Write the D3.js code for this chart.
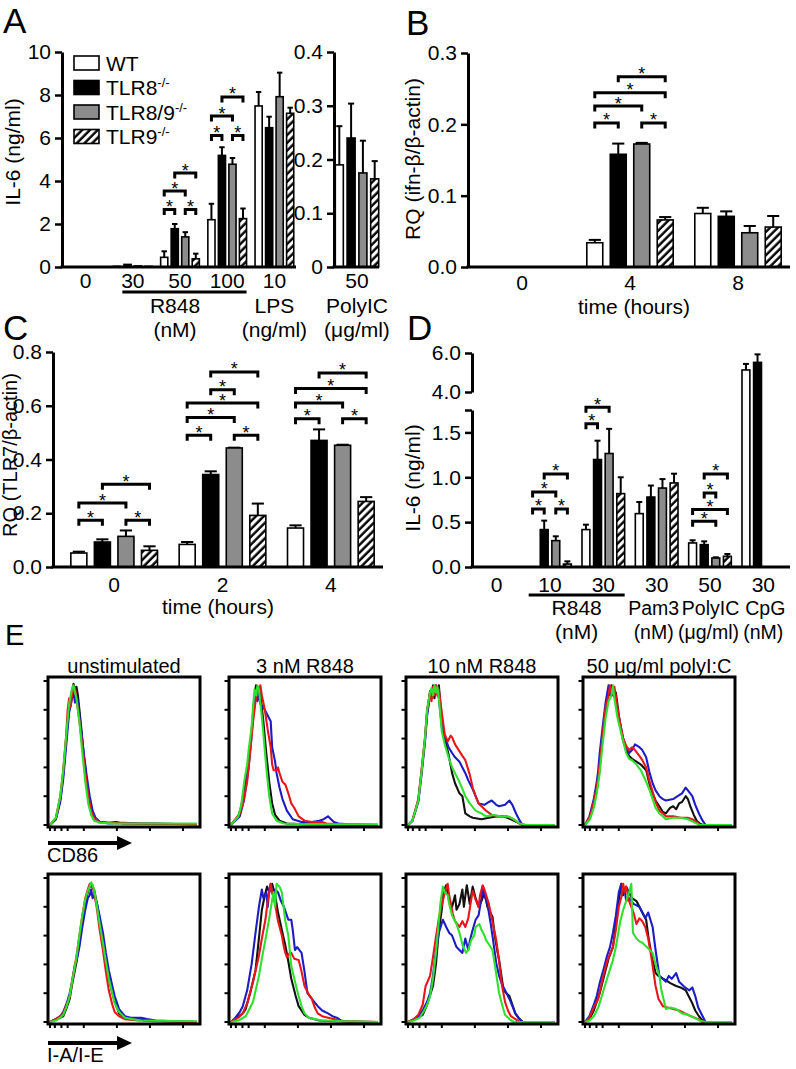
<!DOCTYPE html>
<html><head><meta charset="utf-8">
<script src="https://cdn.jsdelivr.net/npm/d3@7"></script>
<style>body{margin:0;background:#fff} svg{display:block}</style>
</head><body>
<svg id="fig" width="796" height="1069"></svg>
<script>
// ---------------- DATA ----------------
const seriesNames = ["WT", "TLR8", "TLR8/9", "TLR9"];
const seriesSup = ["", "-/-", "-/-", "-/-"];

// Panel A (IL-6 ng/ml)
const aGroups = ["0", "30", "50", "100", "LPS10"];
const aTickLabels = ["0", "30", "50", "100", "10"];
const aWT = [0, 0.03, 0.45, 2.2, 7.49];
const aKO8 = [0, 0.12, 1.78, 5.19, 6.48];
const aKO89 = [0, 0.05, 1.4, 4.78, 7.92];
const aKO9 = [0, 0.03, 0.38, 2.25, 7.15];
const aWTsem = [0, 0, 0.28, 0.74, 0.65];
const aKO8sem = [0, 0, 0.22, 0.38, 0.51];
const aKO89sem = [0, 0, 0.22, 0.29, 1.12];
const aKO9sem = [0, 0, 0.24, 0.47, 0.26];
const aBrackets = [["50",0,1,2.67],["50",2,3,2.67],["50",0,2,3.53],["50",1,3,4.37],
                   ["100",0,1,6.12],["100",2,3,6.12],["100",0,2,7.02],["100",1,3,7.91]];
const aTicks = [0, 2, 4, 6, 8, 10];
// Panel A, PolyIC sub-axis
const a2Groups = ["50"];
const a2WT = [0.19], a2KO8 = [0.24], a2KO89 = [0.175], a2KO9 = [0.164];
const a2WTsem = [0.072], a2KO8sem = [0.064], a2KO89sem = [0.06], a2KO9sem = [0.033];
const a2Ticks = [0, 0.1, 0.2, 0.3, 0.4];

// Panel B (RQ ifn-b)
const bGroups = ["0", "4", "8"];
const bWT = [0, 0.034, 0.075], bKO8 = [0, 0.158, 0.071], bKO89 = [0, 0.1724, 0.048], bKO9 = [0, 0.066, 0.056];
const bWTsem = [0, 0.004, 0.008], bKO8sem = [0, 0.015, 0.007], bKO89sem = [0, 0.0016, 0.0095], bKO9sem = [0, 0.004, 0.0155];
const bBrackets = [["4",0,1,0.202],["4",2,3,0.202],["4",0,2,0.2257],["4",0,3,0.2444],["4",1,3,0.2668]];
const bTicks = [0, 0.1, 0.2, 0.3];

// Panel C (RQ TLR7)
const cGroups = ["0", "2", "4"];
const cWT = [0.052, 0.084, 0.145], cKO8 = [0.093, 0.344, 0.471], cKO89 = [0.114, 0.443, 0.453], cKO9 = [0.062, 0.192, 0.244];
const cWTsem = [0.005, 0.009, 0.01], cKO8sem = [0.01, 0.012, 0.041], cKO89sem = [0.022, 0.001, 0.002], cKO9sem = [0.015, 0.044, 0.016];
const cBrackets = [["0",0,1,0.174],["0",2,3,0.174],["0",0,2,0.238],["0",1,3,0.308],
                   ["2",0,1,0.49],["2",2,3,0.49],["2",0,2,0.556],["2",0,3,0.61],["2",1,2,0.66],["2",1,3,0.726],
                   ["4",0,1,0.552],["4",2,3,0.552],["4",0,2,0.61],["4",0,3,0.664],["4",1,3,0.722]];
const cTicks = [0, 0.2, 0.4, 0.6, 0.8];

// Panel D (IL-6 ng/ml, broken axis)
const dGroups = ["0", "R10", "R30", "P30", "I50", "C30"];
const dTickLabels = ["0", "10", "30", "30", "50", "30"];
const dStimLabels = ["Pam3", "PolyIC", "CpG"];
const dUnitLabels = ["(nM)", "(\u03bcg/ml)", "(nM)"];
const dWT = [0, 0, 0.417, 0.595, 0.268, 5.13];
const dKO8 = [0, 0.417, 1.198, 0.78, 0.249, 5.52];
const dKO89 = [0, 0.294, 1.265, 0.88, 0.10, 0];
const dKO9 = [0, 0.033, 0.818, 0.937, 0.119, 0];
const dWTsem = [0, 0, 0.055, 0.13, 0.03, 0.31];
const dKO8sem = [0, 0.1, 0.21, 0.128, 0.037, 0.41];
const dKO89sem = [0, 0.048, 0.275, 0.1, 0.008, 0];
const dKO9sem = [0, 0.03, 0.182, 0.103, 0.026, 0];
const dBrackets = [["R10",0,1,0.647],["R10",2,3,0.647],["R10",0,2,0.837],["R10",1,3,1.038],
                   ["R30",0,1,1.596],["R30",0,2,1.782],
                   ["I50",0,2,0.51],["I50",0,3,0.64],["I50",1,2,0.826],["I50",1,3,1.038]];
const dTicksLow = [0, 0.5, 1.0, 1.5];
const dTicksHigh = [4.0, 6.0];

// Panel E histograms (x: % of channel range, y: % of max)
const eTitles = ["unstimulated", "3 nM R848", "10 nM R848", "50 \u03bcg/ml polyI:C"];
const eMarkers = ["CD86", "I-A/I-E"];
const eBottomTicks = [0, 3.3, 7.8, 12, 23, 45.5, 68, 90.5];
const eLeftTicks = [0, 20, 40, 60, 80, 100];

const cd86Unstim_black = [[0,0],[4,4],[7,18],[9,35],[11,60],[13,82],[15,93],[16,98],[17,94],[18,96],[19,90],[21,70],[23,48],[25,30],[27,16],[29,8],[31,4],[34,2],[40,1.5],[45,2],[50,1],[60,1],[100,0.5]];
const cd86Unstim_blue = [[0,0],[4,4],[7,16],[9,32],[11,55],[13,78],[15,88],[16,92],[17,85],[18,90],[19,85],[21,68],[23,50],[25,34],[27,20],[29,10],[31,5],[34,2],[40,1],[50,1.5],[60,1],[100,0.5]];
const cd86Unstim_red = [[0,0],[4,5],[7,20],[9,38],[11,62],[12,80],[13,88],[14,82],[15,90],[16,96],[17,95],[18,88],[19,80],[20,72],[22,55],[24,36],[26,20],[28,10],[30,5],[33,2],[40,1.5],[55,1],[100,0.5]];
const cd86Unstim_green = [[0,0],[4,5],[7,20],[9,38],[11,62],[13,84],[15,95],[16,97],[17,92],[18,88],[20,72],[22,50],[24,30],[26,15],[28,7],[30,3],[34,1.5],[45,1],[100,1]];

const cd86R3_black = [[0,0],[5,6],[7,13],[11,38],[14,65],[16,90],[17,97],[18,92],[19,96],[20,90],[22,72],[24,50],[26,30],[28,15],[30,7],[33,3],[38,1],[50,0.5],[100,0]];
const cd86R3_blue = [[0,0],[6,6],[9,18],[12,40],[14,62],[16,85],[17,90],[18,86],[19,92],[20,84],[22,82],[24,78],[26,74],[27,72],[28,54],[30,44],[31,36],[33,26],[35,18],[38,10],[42,4],[48,2],[55,2],[60,3],[63,4],[66,6],[68,4],[70,2],[73,1],[80,0.5],[100,0]];
const cd86R3_red = [[0,0],[6,8],[8,14],[11,30],[13,50],[15,72],[17,88],[18,95],[19,92],[20,97],[21,90],[23,80],[25,66],[27,54],[28,42],[29,38],[31,38],[32,40],[33,36],[35,30],[37,28],[39,22],[41,15],[43,12],[46,6],[50,3],[55,2],[62,2],[65,1],[73,0.5],[100,0]];
const cd86R3_green = [[0,0],[5,6],[7,14],[9,30],[11,42],[12,52],[14,68],[15,82],[16,94],[17,90],[18,97],[19,94],[20,85],[22,64],[24,40],[26,20],[28,8],[31,3],[36,1],[50,0.5],[100,0.5]];

const cd86R10_black = [[0,0],[3,3],[7,17],[9,35],[11.5,59],[13,78],[15,93],[16,90],[17,97],[18,88],[19,95],[20,92],[21,97],[23,72],[25,60],[27.6,49],[30,36],[32,29],[35,22],[37,20],[39,8],[42,6],[44,5],[50,4],[55,5],[60,6],[65,6],[70,4],[74,2],[78,0],[100,0]];
const cd86R10_blue = [[0,0],[3,3],[7,16],[9,33],[11.5,57],[13,76],[15,90],[16,88],[17,95],[18,90],[19,97],[20,93],[21,88],[23,68],[25,62],[27.6,54],[30,50],[32,47],[35,44],[37,40],[39,36],[41,31],[44,25],[48,15],[52,14],[55,16],[57,17],[60,14],[62,13],[66,14],[69,17],[71,14],[73.5,8],[76,3],[78,0],[100,0]];
const cd86R10_red = [[0,0],[3,3],[7,18],[9,36],[11.5,60],[13,80],[15,92],[16,86],[17,96],[18,90],[19,97],[20,90],[21,94],[23,78],[25,63],[27,58],[29,62],[30,61],[32,56],[34.5,52],[37,48],[39,45],[42,35],[44,26],[46,20],[48,15],[53,10],[57,7],[62,6],[67,6],[70,5],[73,3],[76,1],[80,0],[100,0]];
const cd86R10_green = [[0,0],[3,3],[7,17],[9,35],[11.5,60],[13,80],[15,92],[16,95],[17,90],[18,97],[19,92],[20,96],[21,88],[23,65],[25,56],[27.6,47],[30,40],[34.5,31],[37,25],[39,20],[42,15],[46,10],[50,8],[53,6],[58,7],[63,6],[68,6],[72,4],[76,1],[80,0],[100,0]];

const cd86Poly_black = [[0,0],[3.4,5],[6,14],[8,24],[10,40],[12,61],[14,80],[16,92],[18,97],[19,90],[21,92],[23.6,72],[26,58],[28,52],[30,48],[32,46],[35,44],[38,42],[41.6,38],[44,28],[46,22],[48,17],[50.6,13],[53,9],[55,8],[58,12],[60,13],[62,11],[64,15],[66,16],[68.5,20],[70,18],[72,12],[74,7],[76,3],[78,1],[80,0],[100,0]];
const cd86Poly_blue = [[0,0],[3,6],[6,18],[8,30],[9,38],[10,50],[12,68],[14,85],[16,97],[17,90],[19,95],[21,85],[23.6,72],[26,60],[28,54],[30,50],[32,52],[34,56],[37,54],[39,52],[41.6,47],[44,36],[46,29],[48,24],[50.6,20],[53,18],[55,17],[60,18],[63,20],[66,22],[68.5,26],[70,24],[73,20],[75,14],[77.5,8],[80,3],[82,0],[100,0]];
const cd86Poly_red = [[0,0],[3.4,6],[6,16],[8,26],[10,42],[12,62],[14,82],[16,90],[17,97],[18,92],[20,96],[22,82],[23.6,72],[26,60],[28,55],[30,52],[32,54],[34,52],[37,48],[39,45],[41.6,40],[44,30],[46,23],[48,16],[50.6,10],[53,8],[55,6],[60,6],[65,5],[70,5],[73,4],[76,2],[78,0],[100,0]];
const cd86Poly_green = [[0,0],[3.4,4],[6,12],[8,22],[10,36],[12,56],[14,74],[16,86],[18,90],[19,97],[20,88],[22,75],[23.6,68],[26,58],[28,50],[30,46],[32,45],[35,42],[38,38],[41.6,30],[44,24],[46,18],[48,12],[50.6,8],[53,6],[55,4],[60,5],[65,5],[70,4],[74,2],[78,0],[100,0]];

const iaUnstim_black = [[0,0],[2,1],[4,2],[7,3],[9,4],[11,9],[13.4,16],[15,26],[17.9,41],[20,56],[22,71],[24,82],[25.7,90],[27,94],[28,96],[29,93],[30,92],[32,82],[33.5,73],[36,58],[38,43],[40,30],[42.4,20],[44,14],[47,6],[51,3],[55,2],[60,2],[65,1],[70,0.5],[100,0]];
const iaUnstim_blue = [[0,0],[4,2],[7,4],[9,7],[11,12],[13.4,20],[15,28],[17,40],[18,42],[20,52],[22,66],[24,78],[25.7,86],[27,88],[28,92],[29,86],[30,88],[32,82],[33.5,75],[36,62],[38,48],[40,36],[42.4,25],[44,18],[47,9],[51,4],[55,3],[62,3],[66,2],[72,1],[100,0]];
const iaUnstim_red = [[0,0],[4,2],[7,4],[9,6],[11,11],[13.4,18],[15,28],[17.9,45],[20,60],[22,74],[24,86],[25.7,92],[27,96],[28,94],[29,95],[30,90],[32,78],[33.5,66],[36,50],[38,35],[40,22],[42.4,12],[44,7],[47,4],[51,2],[60,1],[100,0]];
const iaUnstim_green = [[0,0],[4,1],[7,3],[9,5],[11,10],[13.4,18],[15,28],[17.9,44],[20,60],[22,74],[24,85],[25.7,91],[27,94],[28,97],[29,95],[30,92],[32,80],[33.5,70],[36,55],[38,42],[40,30],[42.4,20],[44,13],[47,7],[51,3],[56,2],[62,1],[100,0.5]];

const iaR3_black = [[0,0],[4,3],[8,6],[10,9],[13,20],[16.7,36],[19,58],[21,78],[23,88],[24.5,94],[26,90],[28,96],[30,88],[32,76],[35,62],[37,53],[39,42],[41,30],[44,18],[46,11],[50,5],[53,3],[60,1],[70,0.5],[100,0]];
const iaR3_blue = [[0,0],[3,3],[6,7],[8,11],[11,22],[14,40],[16.7,62],[19,80],[21,92],[22,86],[24,90],[25,80],[26,92],[27,96],[29,86],[30,92],[32,90],[34,84],[36,80],[39,71],[41,71],[42,64],[43.5,50],[45,52],[48,48],[50,35],[52,20],[55,16],[59,11],[62,8],[66,6],[69,4],[72,3],[75,1],[80,0],[100,0]];
const iaR3_red = [[0,0],[5,3],[8,6],[11,13],[15,28],[19,46],[21,58],[23.4,71],[25,84],[27,96],[28,90],[30,82],[32,70],[34.6,60],[36,52],[37,48],[38,45],[40,48],[41,48],[43,44],[46,43],[48,35],[50,25],[53,19],[55,16],[57,10],[59,6],[62,4],[66,3],[70,2],[75,0.5],[100,0]];
const iaR3_green = [[0,0],[5,1],[10,4],[15,14],[19,32],[21,44],[23.4,57],[26,72],[28,85],[29,90],[30,80],[31,96],[33,94],[34.6,90],[36,78],[37,70],[39,60],[41,39],[44,26],[46,18],[48,11],[50,6],[53,3],[57,2],[62,1],[77,0.5],[100,0]];

const iaR10_black = [[0,0],[3,1],[7,3],[10,5],[13,12],[17,25],[19,40],[21,64],[23,78],[24,90],[26,95],[28,84],[30,80],[32,88],[33,78],[35,82],[37,92],[38,80],[40,95],[42,82],[44,94],[46,86],[48,80],[50,84],[52,90],[54,80],[56,76],[57.5,73],[59,60],[61,48],[62,43],[63,36],[65,22],[67,20],[69,18],[71,12],[73,6],[75,3],[78,0],[100,0]];
const iaR10_blue = [[0,0],[4,2],[7,4],[10,8],[13,14],[15,20],[17,32],[19,50],[21,62],[23.7,71],[26,66],[28,62],[30,60],[33,52],[35,50],[37,48],[39,58],[41,50],[42,56],[44,64],[46,71],[48,74],[50,86],[50.8,94],[52,88],[54,82],[56,70],[58,56],[60,41],[62,32],[64,26],[67,20],[69,16],[71,11],[73,6],[76,2],[78,0],[100,0]];
const iaR10_red = [[0,0],[4,2],[7,5],[10,12],[12,25],[15,32],[17,45],[19,59],[21,72],[23.7,84],[25,90],[27,96],[28,88],[30.5,75],[32,70],[35,66],[37,70],[39,66],[41,72],[43,85],[44,91],[46,85],[48,80],[49,88],[50.8,95],[52,92],[55,82],[57,72],[60,57],[62,42],[64,25],[66,14],[68,8],[70,4],[73,2],[76,0],[100,0]];
const iaR10_green = [[0,0],[4,1],[8,3],[11,8],[13,12],[15,18],[17,30],[19,48],[21,70],[22,82],[23.7,94],[25,90],[27,88],[28,82],[30,74],[33,68],[35,62],[37,54],[39.5,48],[41,50],[43,57],[45,60],[46,66],[48.5,68],[50,64],[52,60],[53,57],[55,54],[57.5,50],[59,40],[62,20],[64,12],[66,5],[69,2],[72,0],[100,0]];

const iaPoly_black = [[0,0],[3,2],[6,8],[10,20],[13,32],[16,44],[19,52],[21,68],[23,85],[24.7,96],[26,88],[28,94],[30,90],[32,86],[35,84],[37,80],[39,76],[41.6,71],[43,60],[45,48],[48,34],[50,32],[53,30],[55,29],[58,27],[62,25],[65,24],[68.5,22],[71,17],[73,13],[75,8],[77.5,4],[80,1],[82,0],[100,0]];
const iaPoly_blue = [[0,0],[3,4],[6,12],[8,18],[10,27],[13,38],[15,46],[17,52],[19,62],[21,74],[23,90],[24.7,96],[25,88],[27,92],[28,84],[30,86],[33,82],[37,80],[39,76],[41,72],[43,76],[46,66],[48,50],[50.6,32],[53,30],[55,28],[57,32],[59,30],[62,34],[64,28],[66,26],[68,24],[71,22],[73,24],[75,18],[77,10],[80,4],[82,0],[100,0]];
const iaPoly_red = [[0,0],[3,3],[6,10],[9,16],[12,30],[15,42],[19,52],[21,64],[23,80],[25,88],[26,96],[27,90],[28,94],[30,84],[33,76],[35,68],[37,72],[39,70],[41,66],[43,58],[45,46],[48,25],[50,16],[53,11],[56,10],[60,9],[64,8],[68,6],[72,4],[77,2],[80,0],[100,0]];
const iaPoly_green = [[0,0],[3,1],[6,4],[9,10],[12,20],[15,30],[19,43],[21,52],[24,70],[26,78],[28,84],[30,90],[31.5,96],[32.6,62],[35,58],[37,56],[39,55],[42,52],[44,50],[46,48],[48,40],[50.6,32],[52,22],[55,9],[58,10],[62,9],[66,6],[70,5],[74,3],[78,1],[82,0],[100,0]];

// ---------------- DRAWING ----------------
const FONT = "'Liberation Sans', Arial, Helvetica, sans-serif";
const TICKFS = 21;
const svg = d3.select("#fig").attr("font-family", FONT);
svg.append("rect").attr("width", 796).attr("height", 1069).attr("fill", "#fff");
const defs = svg.append("defs");
const pat = defs.append("pattern").attr("id", "hatch").attr("patternUnits", "userSpaceOnUse")
  .attr("width", 5.5).attr("height", 5.5).attr("patternTransform", "rotate(45)");
pat.append("rect").attr("width", 5.5).attr("height", 5.5).attr("fill", "#fff");
pat.append("line").attr("x1", 1.5).attr("y1", -1).attr("x2", 1.5).attr("y2", 6.5).attr("stroke", "#000").attr("stroke-width", 2.4);

const seriesFill = ["#ffffff", "#000000", "#8c8c8c", "url(#hatch)"];

function txt(g, x, y, s, fs, anchor, extra) {
  const t = g.append("text").attr("x", x).attr("y", y).attr("font-size", fs)
    .attr("text-anchor", anchor || "middle").attr("fill", "#000").text(s);
  if (extra) extra(t);
  return t;
}

function styleAxis(ax) {
  ax.select(".domain").attr("stroke-width", 3).attr("stroke", "#000");
  ax.selectAll(".tick line").attr("stroke-width", 2.5).attr("stroke", "#000");
  ax.selectAll(".tick text").attr("font-size", TICKFS).attr("font-family", FONT).attr("fill", "#000");
}

function yAxis(x, scale, ticks, fmt) {
  const ax = svg.append("g").attr("transform", `translate(${x},0)`)
    .call(d3.axisLeft(scale).tickValues(ticks).tickFormat(fmt).tickSize(7).tickSizeOuter(0).tickPadding(4));
  styleAxis(ax);
  return ax;
}

function xAxisLine(x1, x2, y) {
  svg.append("line").attr("x1", x1 - 1.5).attr("x2", x2).attr("y1", y).attr("y2", y)
    .attr("stroke", "#000").attr("stroke-width", 3);
}

function xLabels(x0, y, pad, fmt) {
  const ax = svg.append("g").attr("transform", `translate(0,${y})`)
    .call(d3.axisBottom(x0).tickSize(0).tickPadding(pad).tickFormat(fmt));
  ax.select(".domain").remove();
  ax.selectAll(".tick text").attr("font-size", TICKFS).attr("font-family", FONT).attr("fill", "#000");
}

function barPanel(x0, yPix, groups, vals, sems, brackets) {
  const g = svg.append("g");
  const x1 = d3.scaleBand().domain([0, 1, 2, 3]).range([0, x0.bandwidth()]).paddingInner(0.32);
  const bw = x1.bandwidth();
  const base = yPix(0);
  groups.forEach((grp, gi) => {
    for (let s = 0; s < 4; s++) {
      const v = vals[s][gi];
      if (!(v > 0)) continue;
      const x = x0(grp) + x1(s);
      const top = yPix(v);
      const e = sems[s][gi];
      const cx = x + bw / 2;
      if (e > 0) {
        const et = yPix(v + e);
        g.append("line").attr("x1", cx).attr("x2", cx).attr("y1", top).attr("y2", et).attr("stroke", "#000").attr("stroke-width", 2);
        g.append("line").attr("x1", cx - bw * 0.38).attr("x2", cx + bw * 0.38).attr("y1", et).attr("y2", et).attr("stroke", "#000").attr("stroke-width", 2);
      }
      g.append("rect").attr("x", x).attr("y", top).attr("width", bw).attr("height", Math.max(0, base - top))
        .attr("fill", seriesFill[s]).attr("stroke", "#000").attr("stroke-width", 1.6);
    }
  });
  brackets.forEach(([grp, i, j, lvl]) => {
    const xa = x0(grp) + x1(i) + bw / 2, xb = x0(grp) + x1(j) + bw / 2, y = yPix(lvl);
    g.append("path").attr("d", `M${xa},${y + 5.5}V${y}H${xb}V${y + 5.5}`)
      .attr("fill", "none").attr("stroke", "#000").attr("stroke-width", 3);
    txt(g, (xa + xb) / 2, y + 3.5, "*", 18);
  });
}

// ----- Panel A -----
const yA = d3.scaleLinear().domain([0, 10]).range([267, 52]);
const xA = d3.scaleBand().domain(aGroups).range([62, 298]).paddingInner(0.18).paddingOuter(0.09);
barPanel(xA, yA, aGroups, [aWT, aKO8, aKO89, aKO9], [aWTsem, aKO8sem, aKO89sem, aKO9sem], aBrackets);
xAxisLine(62, 296, 267);
yAxis(62, yA, aTicks, d3.format("d"));
xLabels(xA, 267, 6, (d, i) => aTickLabels[aGroups.indexOf(d)]);
// PolyIC sub-axis
const yA2 = d3.scaleLinear().domain([0, 0.4]).range([267, 52]);
const xA2 = d3.scaleBand().domain(a2Groups).range([334, 380]).paddingOuter(0.03);
barPanel(xA2, yA2, a2Groups, [a2WT, a2KO8, a2KO89, a2KO9], [a2WTsem, a2KO8sem, a2KO89sem, a2KO9sem], []);
xAxisLine(334, 379, 267);
yAxis(334, yA2, a2Ticks, d => d === 0 ? "0" : d3.format(".1f")(d));
xLabels(xA2, 267, 6, d => d);
// under-axis labels A
{
  const x1 = xA("30") + xA.bandwidth() * 0.23, x2 = xA("100") + xA.bandwidth();
  svg.append("line").attr("x1", x1).attr("x2", x2).attr("y1", 292).attr("y2", 292).attr("stroke", "#000").attr("stroke-width", 3);
  txt(svg, 175, 313, "R848", TICKFS); txt(svg, 175, 337, "(nM)", TICKFS);
  const lx = xA("LPS10") + xA.bandwidth() / 2;
  txt(svg, lx, 313, "LPS", TICKFS); txt(svg, lx, 337, "(ng/ml)", TICKFS);
  const px = xA2("50") + xA2.bandwidth() / 2;
  txt(svg, px, 313, "PolyIC", TICKFS); txt(svg, px, 337, "(\u03bcg/ml)", TICKFS);
}
txt(svg, 13, 152, "IL-6 (ng/ml)", TICKFS, "middle", t => t.attr("transform", "rotate(-90,13,152)").attr("dy", "0.35em"));
// legend
seriesNames.forEach((n, i) => {
  const cy = 63 + i * 24.5;
  svg.append("rect").attr("x", 74).attr("y", cy - 7).attr("width", 25).attr("height", 14)
    .attr("fill", seriesFill[i]).attr("stroke", "#000").attr("stroke-width", 1.6);
  const t = txt(svg, 106, cy + 7.5, n, TICKFS, "start");
  if (seriesSup[i]) t.append("tspan").attr("font-size", 13).attr("dy", -8).text(seriesSup[i]);
});

// ----- Panel B -----
const yB = d3.scaleLinear().domain([0, 0.3]).range([267, 53]);
const xB = d3.scaleBand().domain(bGroups).range([468, 792]).paddingInner(0.2).paddingOuter(0.1);
barPanel(xB, yB, bGroups, [bWT, bKO8, bKO89, bKO9], [bWTsem, bKO8sem, bKO89sem, bKO9sem], bBrackets);
xAxisLine(468, 790, 267);
yAxis(468, yB, bTicks, d3.format(".1f"));
xLabels(xB, 267, 8, d => d);
txt(svg, 634, 314, "time (hours)", TICKFS);
txt(svg, 413, 159, "RQ (ifn-\u03b2/\u03b2-actin)", TICKFS, "middle", t => t.attr("transform", "rotate(-90,413,159)").attr("dy", "0.35em"));

// ----- Panel C -----
const yC = d3.scaleLinear().domain([0, 0.8]).range([567, 352]);
const xC = d3.scaleBand().domain(cGroups).range([60, 385]).paddingInner(0.2).paddingOuter(0.1);
barPanel(xC, yC, cGroups, [cWT, cKO8, cKO89, cKO9], [cWTsem, cKO8sem, cKO89sem, cKO9sem], cBrackets);
xAxisLine(53, 383, 567);
yAxis(53, yC, cTicks, d3.format(".1f"));
xLabels(xC, 567, 10, d => d);
txt(svg, 218, 614, "time (hours)", TICKFS);
txt(svg, 10, 455, "RQ (TLR7/\u03b2-actin)", 20, "middle", t => t.attr("transform", "rotate(-90,10,455)").attr("dy", "0.35em"));

// ----- Panel D -----
const yDlow = d3.scaleLinear().domain([0, 1.75]).range([567, 410]);
const yDhigh = d3.scaleLinear().domain([4, 6]).range([392, 353]);
const yD = v => v >= 3 ? yDhigh(v) : yDlow(v);
const xD = d3.scaleBand().domain(dGroups).range([470, 790]).paddingInner(0.2).paddingOuter(0.1);
barPanel(xD, yD, dGroups, [dWT, dKO8, dKO89, dKO9], [dWTsem, dKO8sem, dKO89sem, dKO9sem], dBrackets);
xAxisLine(472, 790, 567);
yAxis(472, yDlow, [...dTicksLow, 1.75], d => d === 1.75 ? "" : d3.format(".1f")(d));
yAxis(472, yDhigh, dTicksHigh, d3.format(".1f"));
xLabels(xD, 567, 10, d => dTickLabels[dGroups.indexOf(d)]);
{
  const x1 = xD("R10"), x2 = xD("R30") + xD.bandwidth();
  svg.append("line").attr("x1", x1).attr("x2", x2).attr("y1", 595).attr("y2", 595).attr("stroke", "#000").attr("stroke-width", 3);
  const c = g => xD(g) + xD.bandwidth() / 2;
  txt(svg, (c("R10") + c("R30")) / 2, 615, "R848", TICKFS);
  txt(svg, (c("R10") + c("R30")) / 2, 639, "(nM)", TICKFS);
  const stimOffsets = [-3, 0.5, 2];
  const unitOffsets = [-3, -1.5, 0];
  ["P30", "I50", "C30"].forEach((gk, i) => {
    txt(svg, c(gk) + stimOffsets[i], 615, dStimLabels[i], 19.5);
    txt(svg, c(gk) + unitOffsets[i], 639, dUnitLabels[i], 19.5);
  });
}
txt(svg, 413, 478, "IL-6 (ng/ml)", TICKFS, "middle", t => t.attr("transform", "rotate(-90,413,478)").attr("dy", "0.35em"));

// panel letters
txt(svg, 3, 33, "A", 35, "start");
txt(svg, 406, 35, "B", 35, "start");
txt(svg, 3, 340, "C", 35, "start");
txt(svg, 407, 340, "D", 35, "start");
txt(svg, 5, 645, "E", 29, "start");

// ----- Panel E -----
const boxXs = [48, 229, 406, 583], boxYs = [677, 874], boxW = 152, boxH = 150;
const histColors = ["#111111", "#1c1cc4", "#e8161b", "#2fe02f"];
const histRows = [
  [[cd86Unstim_black, cd86Unstim_blue, cd86Unstim_red, cd86Unstim_green],
   [cd86R3_black, cd86R3_blue, cd86R3_red, cd86R3_green],
   [cd86R10_black, cd86R10_blue, cd86R10_red, cd86R10_green],
   [cd86Poly_black, cd86Poly_blue, cd86Poly_red, cd86Poly_green]],
  [[iaUnstim_black, iaUnstim_blue, iaUnstim_red, iaUnstim_green],
   [iaR3_black, iaR3_blue, iaR3_red, iaR3_green],
   [iaR10_black, iaR10_blue, iaR10_red, iaR10_green],
   [iaPoly_black, iaPoly_blue, iaPoly_red, iaPoly_green]]
];
eTitles.forEach((t, c) => txt(svg, boxXs[c] + boxW / 2, 673, t, 20));
histRows.forEach((row, r) => {
  row.forEach((curves, c) => {
    const bx = boxXs[c], by = boxYs[r];
    const hx = d3.scaleLinear().domain([0, 100]).range([bx + 2, bx + boxW - 3]);
    const hy = d3.scaleLinear().domain([0, 100]).range([by + boxH - 2, by + 4]);
    const cid = `clip${r}${c}`;
    defs.append("clipPath").attr("id", cid).append("rect").attr("x", bx).attr("y", by).attr("width", boxW).attr("height", boxH);
    const g = svg.append("g").attr("clip-path", `url(#${cid})`);
    const line = d3.line().x(d => hx(d[0])).y(d => hy(d[1]));
    curves.forEach((pts, k) => {
      g.append("path").attr("d", line(pts)).attr("fill", "none").attr("stroke", histColors[k])
        .attr("stroke-width", 2.1).attr("stroke-linejoin", "round");
    });
    svg.append("rect").attr("x", bx).attr("y", by).attr("width", boxW).attr("height", boxH)
      .attr("fill", "none").attr("stroke", "#000").attr("stroke-width", 3);
    eLeftTicks.forEach(v => svg.append("line").attr("x1", bx - 4.5).attr("x2", bx).attr("y1", hy(v)).attr("y2", hy(v))
      .attr("stroke", "#000").attr("stroke-width", 2));
    eBottomTicks.forEach(v => svg.append("line").attr("x1", hx(v)).attr("x2", hx(v)).attr("y1", by + boxH).attr("y2", by + boxH + 4)
      .attr("stroke", "#000").attr("stroke-width", 2));
  });
});
// marker arrows
[[843, 862], [1043, 1062]].forEach(([ay, ty], r) => {
  svg.append("line").attr("x1", 48).attr("x2", 119).attr("y1", ay).attr("y2", ay).attr("stroke", "#000").attr("stroke-width", 4);
  svg.append("path").attr("d", `M117,${ay - 7}L132,${ay}L117,${ay + 7}Z`).attr("fill", "#000");
  txt(svg, 47, ty, eMarkers[r], 20, "start");
});
</script>
</body></html>
